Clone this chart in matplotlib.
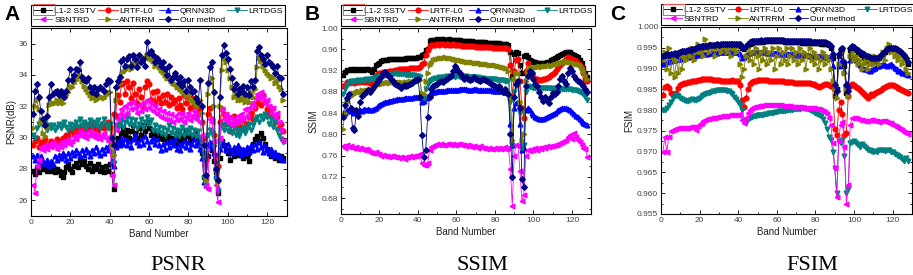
import numpy as np
import matplotlib
matplotlib.use("Agg")
import matplotlib.pyplot as plt
from matplotlib.ticker import MultipleLocator
from matplotlib.patches import Rectangle

plt.rcParams['font.family'] = ['Liberation Sans', 'DejaVu Sans']

methods = ['L1-2 SSTV', 'LRTF-L0', 'QRNN3D', 'LRTDGS', 'SBNTRD', 'ANTRRM', 'Our method']
colors = ['black', 'red', 'blue', '#008080', '#ff00ff', '#808000', '#000080']
markers = ['s', 'o', '^', 'v', '<', '>', 'D']
bands = np.arange(1, 129)

# ---------------- PSNR (dB) ----------------
psnr_sstv = [27.9, 27.7, 28.1, 27.8, 28.3, 28.0, 28.2, 27.9, 28.3, 27.9, 28.1, 27.8, 28.0, 27.9, 27.6, 27.5,
             27.8, 28.1, 28.3, 28.0, 27.8, 28.2, 28.4, 28.1, 28.6, 28.3, 28.5, 28.2, 28.0, 28.4, 27.9, 28.2,
             28.0, 28.3, 27.9, 28.1, 27.8, 28.2, 27.9, 28.3, 27.7, 26.7, 29.6, 30.0, 29.8, 30.3, 30.6, 30.2,
             30.5, 30.0, 30.4, 30.8, 30.3, 30.0, 30.6, 30.2, 30.8, 30.4, 31.0, 30.6, 30.2, 30.5, 30.1, 30.4,
             30.0, 30.3, 29.9, 30.2, 29.8, 30.1, 29.7, 30.0, 29.6, 30.3, 30.0, 29.7, 30.2, 29.9, 30.4, 30.1,
             29.8, 30.2, 29.9, 30.3, 30.0, 29.7, 29.0, 27.5, 27.4, 28.8, 29.6, 29.2, 28.5, 27.8, 26.5, 28.7,
             29.8, 29.5, 29.2, 29.0, 28.6, 29.1, 28.8, 29.2, 28.9, 29.3, 29.0, 28.7, 29.1, 28.8, 28.5, 29.2,
             29.6, 29.9, 30.1, 29.8, 30.3, 30.0, 29.6, 29.3, 29.1, 28.8, 29.0, 28.7, 28.9, 28.6, 28.8, 28.7]
psnr_lrtf = [29.5, 29.8, 30.0, 29.4, 29.7, 29.6, 29.9, 29.5, 29.6, 29.8, 29.5, 29.7, 29.9, 29.8, 29.6, 30.0,
             29.8, 30.2, 30.1, 30.4, 30.5, 30.2, 30.6, 30.3, 30.7, 30.4, 30.8, 30.5, 30.8, 30.6, 30.9, 30.6,
             30.8, 30.5, 30.7, 30.9, 30.6, 30.8, 31.0, 30.7, 29.7, 31.5, 31.4, 32.7, 32.3, 33.4, 33.5, 32.8,
             33.6, 33.2, 32.5, 33.5, 32.8, 32.2, 33.1, 32.6, 32.0, 33.2, 33.6, 33.4, 32.4, 32.9, 32.3, 33.0,
             32.5, 32.2, 32.7, 32.3, 32.8, 32.1, 32.6, 32.2, 32.4, 31.9, 32.5, 32.1, 31.8, 32.7, 32.2, 32.6,
             31.9, 32.5, 32.0, 32.4, 31.5, 31.8, 31.0, 30.0, 28.6, 31.5, 31.9, 31.2, 30.2, 28.9, 28.2, 31.0,
             31.8, 31.5, 30.9, 31.3, 30.4, 30.9, 31.4, 30.6, 31.0, 30.4, 30.7, 31.1, 30.6, 30.9, 31.3, 31.6,
             31.2, 31.9, 32.2, 32.5, 32.1, 32.7, 32.3, 31.8, 31.5, 31.9, 31.4, 31.0, 31.3, 30.6, 30.9, 30.4]
psnr_qrnn = [28.8, 28.6, 28.9, 28.4, 28.8, 28.5, 28.3, 28.6, 28.2, 28.5, 28.3, 28.8, 28.6, 28.9, 28.7, 29.0,
             28.8, 28.6, 29.0, 28.7, 29.1, 28.9, 29.2, 29.0, 28.8, 29.2, 28.9, 29.3, 29.1, 28.8, 29.2, 29.0,
             29.4, 29.1, 28.9, 29.3, 29.0, 29.4, 29.2, 29.6, 28.5, 28.2, 29.4, 29.7, 29.5, 30.0, 29.6, 29.9,
             29.5, 29.8, 29.4, 29.9, 30.2, 29.7, 29.5, 29.9, 29.6, 30.1, 29.8, 29.4, 29.8, 30.0, 29.6, 29.9,
             29.5, 29.2, 29.6, 29.3, 29.7, 29.4, 29.8, 29.5, 29.9, 29.3, 29.6, 29.2, 29.5, 29.8, 29.4, 29.7,
             29.3, 29.6, 29.9, 29.5, 29.7, 29.3, 28.7, 27.2, 27.0, 29.5, 29.7, 29.4, 29.0, 27.6, 26.8, 29.3,
             29.8, 29.5, 29.2, 29.6, 29.3, 29.0, 29.4, 29.1, 29.5, 29.2, 28.9, 29.3, 29.0, 29.4, 29.1, 29.5,
             29.2, 29.6, 29.3, 29.7, 29.4, 29.1, 29.5, 29.2, 29.0, 29.3, 28.9, 29.1, 28.8, 28.9, 28.7, 28.6]
psnr_lrtdgs = [30.2, 30.0, 30.6, 30.9, 31.1, 30.8, 31.0, 30.5, 30.8, 30.6, 30.8, 30.5, 30.7, 30.9, 30.6, 30.8,
               31.0, 30.7, 30.5, 30.9, 30.6, 30.8, 31.0, 30.7, 31.2, 30.8, 31.0, 30.6, 30.9, 31.1, 30.7, 31.0,
               30.8, 31.1, 30.6, 30.9, 31.2, 30.8, 30.6, 30.9, 29.0, 28.4, 30.8, 30.6, 30.9, 31.1, 30.7, 31.0,
               31.3, 30.9, 31.2, 30.8, 31.1, 30.6, 30.9, 31.2, 30.7, 31.0, 31.3, 30.9, 31.1, 30.5, 30.8, 30.4,
               30.7, 30.3, 30.6, 30.2, 30.5, 30.8, 30.3, 30.6, 30.2, 30.5, 30.1, 30.4, 30.7, 30.2, 30.5, 30.3,
               30.6, 30.2, 30.5, 30.1, 30.4, 30.0, 29.6, 27.4, 27.0, 30.2, 30.5, 30.3, 29.4, 27.3, 26.6, 29.8,
               30.8, 30.5, 30.9, 30.4, 30.7, 30.3, 30.6, 30.2, 30.5, 30.1, 30.4, 30.7, 30.3, 30.6, 30.9, 30.5,
               30.8, 31.1, 31.3, 31.0, 31.4, 31.2, 31.5, 31.3, 30.9, 31.2, 30.7, 31.0, 30.5, 30.2, 29.9, 29.7]
psnr_sbntrd = [27.0, 26.5, 28.2, 28.6, 29.4, 29.2, 29.5, 29.3, 29.6, 29.4, 29.7, 29.5, 29.3, 29.6, 29.4, 29.8,
               29.5, 29.7, 29.9, 29.6, 29.8, 30.1, 29.9, 30.2, 30.4, 30.1, 30.3, 30.0, 30.2, 30.4, 30.1, 30.3,
               30.0, 30.2, 29.9, 30.1, 30.3, 30.0, 29.8, 30.1, 27.6, 27.0, 30.5, 31.2, 31.5, 31.8, 31.4, 32.0,
               31.6, 32.2, 31.8, 32.3, 31.9, 31.6, 32.1, 31.7, 32.2, 31.8, 32.4, 31.9, 32.2, 31.7, 32.0, 31.5,
               31.8, 31.3, 31.7, 31.2, 31.6, 31.1, 31.5, 31.0, 31.4, 31.1, 31.6, 31.2, 31.5, 31.0, 31.3, 31.6,
               31.1, 31.4, 31.7, 31.2, 31.5, 31.0, 30.2, 28.4, 26.9, 26.7, 31.2, 31.0, 29.8, 27.0, 25.9, 30.0,
               31.8, 31.2, 31.5, 31.0, 31.3, 30.8, 31.2, 31.0, 31.4, 31.1, 31.5, 31.2, 31.8, 31.4, 31.9, 32.2,
               32.0, 32.5, 32.8, 32.5, 32.9, 32.6, 32.2, 32.4, 32.0, 31.6, 31.9, 31.3, 31.6, 31.0, 30.5, 29.8]
psnr_antrrm = [30.6, 32.0, 32.4, 31.8, 31.0, 30.3, 30.1, 30.7, 32.1, 32.3, 32.2, 32.2, 32.4, 32.2, 32.4, 32.2,
               32.5, 32.7, 32.9, 33.3, 33.2, 33.5, 33.7, 33.9, 34.0, 33.6, 33.3, 33.1, 32.9, 32.7, 32.5, 32.6,
               32.4, 32.5, 32.6, 32.6, 32.5, 32.7, 32.9, 32.9, 29.5, 28.9, 32.4, 33.2, 33.5, 33.9, 34.2, 34.3,
               34.5, 34.6, 34.4, 34.7, 34.7, 34.6, 34.8, 34.9, 35.0, 35.1, 35.3, 35.1, 35.0, 34.9, 34.6, 34.7,
               34.5, 34.3, 34.2, 34.0, 33.8, 33.8, 33.6, 33.5, 33.4, 33.2, 33.2, 33.1, 33.0, 32.9, 32.7, 32.8,
               32.5, 32.4, 32.3, 32.1, 32.0, 32.4, 31.6, 29.5, 27.3, 32.8, 33.5, 33.8, 32.0, 28.0, 27.2, 32.0,
               34.3, 35.1, 34.8, 34.3, 33.8, 33.2, 32.6, 32.8, 32.4, 32.5, 32.4, 32.6, 32.3, 32.6, 32.3, 32.9,
               32.6, 33.1, 34.5, 35.1, 34.9, 34.6, 34.3, 34.1, 34.0, 33.8, 33.9, 33.5, 33.6, 33.3, 33.1, 32.4]
psnr_ours = [31.5, 33.0, 33.4, 32.6, 31.7, 31.2, 30.8, 31.4, 32.6, 33.4, 32.8, 32.9, 33.0, 32.7, 33.0, 32.8,
             32.6, 33.0, 33.7, 34.4, 33.7, 34.0, 34.4, 34.3, 34.8, 33.9, 33.7, 33.6, 33.8, 33.2, 32.9, 33.2,
             32.8, 33.1, 33.2, 33.1, 33.0, 33.4, 33.7, 33.6, 30.0, 29.5, 33.2, 33.6, 33.9, 34.9, 35.0, 34.6,
             35.0, 35.2, 34.6, 35.3, 35.0, 34.5, 35.3, 34.8, 35.0, 34.6, 36.1, 35.4, 35.5, 35.3, 34.8, 35.1,
             34.9, 34.6, 34.8, 34.4, 34.0, 34.6, 33.7, 33.9, 34.1, 33.8, 33.5, 33.9, 33.3, 33.6, 33.0, 33.7,
             33.2, 32.9, 33.0, 32.5, 32.3, 33.7, 32.0, 29.5, 27.6, 33.5, 34.5, 34.8, 32.9, 28.0, 27.3, 32.6,
             35.3, 35.9, 35.4, 35.0, 34.4, 33.8, 33.1, 33.4, 32.8, 33.1, 33.0, 33.3, 32.8, 33.2, 32.7, 33.6,
             33.2, 33.7, 35.5, 35.8, 35.3, 35.0, 34.7, 35.3, 34.8, 34.7, 34.5, 34.1, 34.6, 33.9, 33.8, 32.8]

# ---------------- SSIM ----------------
ssim_sstv = [.912, .918, .921, .921, .922, .921, .922, .921, .922, .921, .922, .921, .923, .922, .921, .918,
             .923, .930, .933, .935, .938, .939, .940, .940, .941, .941, .941, .942, .941, .942, .942, .942,
             .942, .943, .943, .943, .944, .944, .944, .945, .945, .950, .952, .958, .960, .975, .977, .978,
             .978, .979, .978, .979, .979, .978, .978, .979, .978, .978, .978, .977, .977, .977, .976, .976,
             .976, .975, .975, .975, .974, .974, .974, .973, .973, .973, .973, .972, .972, .972, .971, .971,
             .971, .971, .970, .970, .970, .970, .968, .955, .910, .952, .955, .953, .930, .915, .948, .950,
             .945, .940, .938, .937, .936, .935, .935, .934, .934, .935, .936, .937, .939, .941, .943, .945,
             .947, .949, .951, .953, .955, .955, .954, .952, .950, .948, .945, .940, .935, .925, .915, .908]
ssim_lrtf = [.890, .893, .898, .897, .898, .899, .897, .898, .899, .898, .900, .899, .898, .899, .897, .894,
             .905, .910, .913, .915, .916, .917, .918, .918, .919, .920, .920, .921, .921, .922, .922, .922,
             .923, .923, .923, .924, .924, .925, .925, .925, .926, .932, .935, .950, .958, .966, .968, .969,
             .969, .970, .969, .970, .970, .969, .970, .969, .969, .970, .969, .968, .968, .968, .967, .967,
             .967, .966, .966, .966, .966, .965, .965, .965, .965, .964, .964, .964, .964, .964, .963, .963,
             .963, .963, .963, .962, .962, .962, .960, .930, .870, .920, .940, .942, .900, .850, .830, .920,
             .935, .925, .915, .908, .905, .904, .903, .903, .904, .905, .906, .908, .911, .914, .918, .922,
             .926, .930, .934, .938, .942, .945, .944, .942, .940, .938, .935, .930, .925, .915, .905, .900]
ssim_qrnn = [.835, .840, .845, .843, .846, .844, .841, .845, .843, .846, .844, .847, .845, .848, .846, .845,
             .848, .850, .853, .855, .857, .858, .860, .861, .862, .863, .864, .865, .866, .866, .867, .867,
             .868, .868, .868, .869, .869, .870, .870, .871, .870, .860, .862, .868, .872, .875, .878, .880,
             .880, .881, .881, .882, .882, .882, .883, .883, .883, .884, .884, .884, .884, .885, .885, .885,
             .885, .884, .884, .884, .885, .885, .884, .884, .884, .884, .883, .883, .883, .883, .882, .882,
             .882, .882, .881, .881, .880, .880, .878, .820, .780, .850, .858, .860, .820, .770, .775, .845,
             .850, .845, .840, .836, .832, .830, .829, .828, .829, .831, .833, .835, .837, .839, .841, .843,
             .845, .847, .849, .850, .850, .848, .845, .842, .838, .835, .832, .828, .825, .822, .820, .818]
ssim_lrtdgs = [.875, .885, .893, .898, .900, .899, .901, .900, .902, .901, .903, .902, .904, .903, .905, .904,
               .906, .907, .908, .909, .910, .911, .912, .913, .913, .914, .914, .915, .914, .914, .913, .913,
               .913, .912, .912, .912, .911, .911, .910, .910, .908, .870, .868, .885, .895, .900, .903, .905,
               .906, .905, .907, .906, .908, .907, .909, .908, .910, .909, .908, .910, .909, .908, .909, .908,
               .909, .908, .907, .908, .907, .906, .907, .906, .905, .906, .905, .905, .904, .905, .904, .904,
               .903, .903, .902, .902, .901, .901, .900, .860, .780, .880, .890, .892, .840, .775, .780, .880,
               .890, .889, .889, .888, .888, .887, .888, .887, .887, .888, .887, .887, .886, .887, .886, .886,
               .887, .886, .886, .885, .886, .885, .885, .884, .884, .883, .882, .880, .878, .875, .870, .865]
ssim_sbntrd = [.778, .775, .780, .776, .778, .775, .774, .776, .773, .774, .772, .771, .772, .770, .766, .765,
               .764, .766, .762, .763, .760, .761, .759, .760, .758, .760, .759, .757, .758, .756, .757, .755,
               .754, .757, .758, .759, .758, .760, .759, .761, .762, .745, .742, .743, .745, .770, .776, .778,
               .780, .782, .780, .781, .779, .780, .782, .781, .780, .781, .779, .780, .781, .782, .780, .779,
               .778, .779, .777, .776, .778, .776, .775, .777, .776, .774, .775, .773, .774, .772, .773, .774,
               .772, .775, .773, .774, .776, .772, .775, .735, .665, .760, .780, .778, .730, .675, .685, .760,
               .770, .768, .772, .770, .774, .771, .775, .773, .776, .774, .777, .776, .778, .777, .780, .779,
               .781, .783, .785, .788, .790, .795, .798, .792, .802, .795, .790, .785, .780, .775, .772, .758]
ssim_antrrm = [.810, .840, .860, .870, .872, .878, .876, .880, .882, .880, .883, .882, .884, .883, .885, .884,
               .888, .892, .895, .896, .895, .897, .896, .898, .897, .899, .898, .897, .898, .899, .898, .897,
               .898, .899, .898, .900, .899, .900, .901, .900, .902, .878, .875, .900, .915, .930, .935, .940,
               .941, .942, .943, .944, .943, .945, .944, .943, .944, .942, .941, .940, .940, .939, .938, .938,
               .937, .937, .936, .936, .935, .935, .934, .934, .933, .933, .932, .932, .931, .931, .930, .930,
               .929, .928, .927, .926, .925, .925, .920, .870, .790, .905, .915, .915, .860, .790, .800, .900,
               .920, .925, .926, .925, .927, .926, .928, .927, .928, .929, .928, .930, .929, .931, .932, .933,
               .934, .935, .936, .937, .938, .937, .936, .935, .934, .933, .932, .930, .925, .920, .912, .905]
ssim_ours = [.832, .855, .868, .875, .850, .812, .808, .845, .835, .860, .872, .875, .880, .883, .880, .885,
             .890, .895, .900, .905, .908, .915, .918, .912, .910, .905, .900, .895, .892, .890, .888, .890,
             .892, .890, .893, .895, .897, .900, .902, .905, .870, .798, .758, .770, .832, .870, .885, .890,
             .893, .895, .898, .900, .898, .902, .905, .908, .910, .920, .928, .925, .920, .915, .910, .905,
             .908, .905, .902, .905, .908, .905, .903, .900, .902, .905, .903, .900, .898, .895, .893, .890,
             .888, .890, .885, .880, .885, .880, .875, .800, .720, .870, .895, .900, .850, .715, .700, .890,
             .910, .920, .915, .905, .895, .890, .880, .870, .862, .870, .865, .858, .870, .878, .875, .880,
             .890, .905, .910, .900, .895, .915, .925, .920, .910, .905, .900, .898, .895, .890, .885, .880]

# ---------------- FSIM ----------------
fsim_sstv = [.9927, .9929, .9932, .9930, .9933, .9932, .9934, .9933, .9935, .9937, .9939, .9938, .9940, .9941, .9942, .9943,
             .9945, .9947, .9948, .9949, .9950, .9951, .9952, .9952, .9953, .9953, .9954, .9954, .9955, .9954, .9955, .9955,
             .9955, .9956, .9955, .9956, .9957, .9956, .9957, .9957, .9955, .9949, .9947, .9952, .9957, .9960, .9962, .9963,
             .9963, .9964, .9964, .9965, .9964, .9965, .9965, .9965, .9966, .9965, .9965, .9966, .9965, .9965, .9965, .9964,
             .9964, .9964, .9964, .9963, .9963, .9963, .9963, .9963, .9962, .9962, .9962, .9962, .9962, .9961, .9961, .9961,
             .9961, .9961, .9960, .9960, .9960, .9959, .9957, .9950, .9925, .9835, .9850, .9930, .9945, .9947, .9905, .9840,
             .9855, .9945, .9950, .9948, .9944, .9940, .9936, .9932, .9925, .9921, .9918, .9916, .9915, .9916, .9918, .9921,
             .9926, .9930, .9935, .9940, .9944, .9947, .9948, .9948, .9947, .9945, .9942, .9939, .9935, .9930, .9922, .9912]
fsim_lrtf = [.9837, .9855, .9858, .9852, .9842, .9838, .9836, .9840, .9852, .9860, .9863, .9865, .9866, .9867, .9868, .9869,
             .9870, .9871, .9872, .9873, .9874, .9874, .9875, .9874, .9875, .9874, .9873, .9873, .9872, .9872, .9871, .9871,
             .9870, .9871, .9870, .9871, .9872, .9871, .9870, .9869, .9860, .9825, .9808, .9830, .9850, .9862, .9867, .9870,
             .9871, .9872, .9872, .9873, .9873, .9872, .9872, .9871, .9871, .9870, .9871, .9870, .9870, .9869, .9869, .9868,
             .9868, .9867, .9867, .9867, .9866, .9866, .9866, .9865, .9865, .9866, .9865, .9864, .9864, .9863, .9862, .9861,
             .9858, .9855, .9857, .9860, .9862, .9862, .9861, .9858, .9855, .9755, .9740, .9800, .9820, .9790, .9740, .9745,
             .9835, .9858, .9862, .9860, .9856, .9852, .9848, .9843, .9838, .9834, .9830, .9834, .9838, .9836, .9840, .9843,
             .9846, .9849, .9852, .9855, .9858, .9860, .9861, .9860, .9858, .9855, .9852, .9850, .9848, .9846, .9844, .9842]
fsim_qrnn = [.9910, .9912, .9915, .9917, .9918, .9920, .9921, .9922, .9923, .9924, .9925, .9926, .9927, .9928, .9929, .9930,
             .9931, .9932, .9933, .9934, .9935, .9935, .9936, .9936, .9937, .9937, .9938, .9938, .9938, .9939, .9939, .9939,
             .9939, .9940, .9940, .9940, .9940, .9940, .9940, .9939, .9935, .9925, .9928, .9933, .9936, .9938, .9939, .9940,
             .9940, .9940, .9940, .9939, .9939, .9939, .9938, .9938, .9938, .9937, .9937, .9937, .9936, .9936, .9936, .9935,
             .9935, .9935, .9934, .9934, .9934, .9933, .9933, .9933, .9933, .9932, .9932, .9932, .9931, .9931, .9931, .9930,
             .9930, .9930, .9929, .9929, .9928, .9928, .9927, .9925, .9905, .9860, .9850, .9905, .9915, .9920, .9895, .9865,
             .9860, .9920, .9928, .9925, .9920, .9913, .9908, .9903, .9900, .9898, .9896, .9895, .9897, .9900, .9902, .9905,
             .9907, .9909, .9910, .9908, .9906, .9908, .9910, .9906, .9902, .9898, .9895, .9893, .9890, .9888, .9886, .9884]
fsim_lrtdgs = [.9800, .9800, .9805, .9812, .9820, .9828, .9834, .9836, .9834, .9830, .9826, .9824, .9822, .9823, .9825, .9826,
               .9825, .9824, .9826, .9830, .9834, .9836, .9838, .9840, .9842, .9844, .9846, .9847, .9848, .9849, .9849, .9848,
               .9848, .9847, .9845, .9842, .9838, .9832, .9826, .9820, .9812, .9800, .9775, .9770, .9778, .9782, .9784, .9785,
               .9786, .9787, .9788, .9788, .9789, .9790, .9791, .9792, .9793, .9794, .9795, .9796, .9797, .9797, .9798, .9798,
               .9799, .9800, .9800, .9801, .9802, .9802, .9803, .9803, .9804, .9804, .9803, .9802, .9800, .9798, .9795, .9792,
               .9790, .9788, .9785, .9778, .9768, .9755, .9735, .9728, .9700, .9660, .9600, .9725, .9720, .9728, .9690, .9600,
               .9610, .9720, .9722, .9725, .9720, .9716, .9712, .9718, .9714, .9708, .9705, .9703, .9701, .9700, .9702, .9700,
               .9703, .9705, .9703, .9701, .9705, .9703, .9700, .9698, .9695, .9693, .9690, .9686, .9682, .9678, .9685, .9678]
fsim_sbntrd = [.9700, .9735, .9700, .9735, .9750, .9752, .9754, .9755, .9756, .9756, .9757, .9757, .9758, .9758, .9759, .9759,
               .9760, .9752, .9762, .9766, .9770, .9773, .9776, .9778, .9779, .9780, .9781, .9782, .9783, .9784, .9785, .9785,
               .9786, .9786, .9787, .9787, .9788, .9788, .9789, .9789, .9790, .9775, .9768, .9780, .9792, .9800, .9805, .9807,
               .9808, .9809, .9810, .9810, .9811, .9811, .9811, .9812, .9812, .9812, .9812, .9811, .9811, .9811, .9810, .9810,
               .9810, .9809, .9809, .9808, .9808, .9808, .9807, .9807, .9806, .9806, .9806, .9805, .9805, .9804, .9804, .9803,
               .9803, .9802, .9800, .9798, .9795, .9790, .9780, .9765, .9720, .9660, .9590, .9725, .9765, .9772, .9712, .9575,
               .9620, .9765, .9780, .9782, .9780, .9778, .9776, .9775, .9774, .9773, .9774, .9775, .9776, .9775, .9774, .9773,
               .9772, .9773, .9774, .9773, .9772, .9770, .9768, .9765, .9762, .9760, .9757, .9754, .9751, .9748, .9745, .9742]
fsim_antrrm = [.9920, .9940, .9900, .9950, .9890, .9930, .9880, .9920, .9890, .9940, .9900, .9930, .9920, .9940, .9930, .9950,
               .9920, .9940, .9960, .9940, .9950, .9930, .9970, .9950, .9940, .9960, .9950, .9930, .9950, .9960, .9940, .9950,
               .9960, .9940, .9950, .9930, .9960, .9950, .9940, .9960, .9910, .9880, .9900, .9930, .9950, .9920, .9940, .9910,
               .9950, .9930, .9900, .9940, .9920, .9950, .9910, .9940, .9920, .9950, .9900, .9930, .9950, .9910, .9940, .9920,
               .9950, .9910, .9930, .9950, .9920, .9940, .9910, .9950, .9920, .9940, .9900, .9930, .9950, .9920, .9940, .9910,
               .9930, .9900, .9920, .9940, .9910, .9930, .9920, .9900, .9870, .9850, .9830, .9910, .9935, .9940, .9890, .9850,
               .9835, .9930, .9940, .9920, .9930, .9910, .9920, .9900, .9910, .9920, .9900, .9910, .9920, .9910, .9930, .9920,
               .9910, .9930, .9940, .9920, .9950, .9960, .9940, .9950, .9930, .9940, .9920, .9930, .9910, .9920, .9900, .9890]
fsim_ours = [.9930, .9932, .9935, .9933, .9936, .9935, .9937, .9936, .9938, .9940, .9942, .9941, .9943, .9944, .9945, .9946,
             .9948, .9950, .9951, .9952, .9953, .9954, .9955, .9955, .9956, .9956, .9957, .9957, .9958, .9957, .9958, .9958,
             .9958, .9959, .9958, .9959, .9960, .9959, .9960, .9960, .9958, .9952, .9950, .9955, .9960, .9963, .9965, .9966,
             .9966, .9967, .9967, .9968, .9967, .9968, .9968, .9968, .9969, .9968, .9968, .9969, .9968, .9968, .9968, .9967,
             .9967, .9967, .9967, .9966, .9966, .9966, .9966, .9966, .9965, .9965, .9965, .9965, .9965, .9964, .9964, .9964,
             .9964, .9964, .9963, .9963, .9963, .9962, .9960, .9955, .9935, .9860, .9845, .9935, .9948, .9950, .9915, .9860,
             .9845, .9950, .9955, .9952, .9948, .9944, .9940, .9937, .9934, .9931, .9929, .9927, .9926, .9925, .9925, .9926,
             .9928, .9932, .9937, .9942, .9946, .9949, .9950, .9950, .9949, .9947, .9945, .9942, .9938, .9933, .9925, .9915]

psnr = [psnr_sstv, psnr_lrtf, psnr_qrnn, psnr_lrtdgs, psnr_sbntrd, psnr_antrrm, psnr_ours]
ssim = [ssim_sstv, ssim_lrtf, ssim_qrnn, ssim_lrtdgs, ssim_sbntrd, ssim_antrrm, ssim_ours]
fsim = [fsim_sstv, fsim_lrtf, fsim_qrnn, fsim_lrtdgs, fsim_sbntrd, fsim_antrrm, fsim_ours]

W, H = 913, 275
fig = plt.figure(figsize=(W / 100, H / 100), dpi=100)

panels = [
    # letter, data, ylabel, caption, axes rect, ylim, major, minor, fmt, letter x, caption x
    ('A', psnr, 'PSNR(dB)', 'PSNR', [0.034, 0.2145, 0.280, 0.684], (25, 37), 2, 1, '%d', 4, 178),
    ('B', ssim, 'SSIM', 'SSIM', [0.3735, 0.222, 0.274, 0.676], (0.65, 1.0), 0.04, 0.02, '%.2f', 305, 482),
    ('C', fsim, 'FSIM', 'FSIM', [0.724, 0.222, 0.2749, 0.680], (0.955, 1.0), 0.005, 0.0025, '%.3f', 610, 812),
]

for letter, data, ylab, cap, rect, ylim, major, minor, fmt, letx, capx in panels:
    ax = fig.add_axes(rect)
    handles = []
    for vals, name, c, m in zip(data, methods, colors, markers):
        h, = ax.plot(bands, vals, color=c, marker=m, ms=3.4 if m != 'D' else 2.9,
                     lw=0.6, mec=c, mfc=c, label=name)
        handles.append(h)
    ax.set_xlim(0, 130)
    ax.set_ylim(*ylim)
    ax.xaxis.set_major_locator(MultipleLocator(20))
    ax.xaxis.set_minor_locator(MultipleLocator(10))
    ax.yaxis.set_major_locator(MultipleLocator(major))
    ax.yaxis.set_minor_locator(MultipleLocator(minor))
    ax.yaxis.set_major_formatter(matplotlib.ticker.FormatStrFormatter(fmt))
    ax.tick_params(which='both', direction='in', top=True, right=True,
                   labelsize=6, labelcolor='#444444', width=0.6, pad=2)
    ax.tick_params(which='major', length=3)
    ax.tick_params(which='minor', length=1.5)
    for s in ax.spines.values():
        s.set_linewidth(0.8)
    ax.set_xlabel('Band Number', fontsize=7, color='#222222', labelpad=2)
    ax.set_ylabel(ylab, fontsize=7, color='#222222', labelpad=2)

    # row-wise legend: 4 entries on top, 3 below
    order = [0, 4, 1, 5, 2, 6, 3]
    leg = ax.legend([handles[i] for i in order], [methods[i] for i in order],
                    ncol=4, loc='lower left', bbox_to_anchor=(0.0, 1.012),
                    borderaxespad=0, fontsize=6.1, handlelength=2.3,
                    handletextpad=0.2, columnspacing=0.3, labelspacing=0.12,
                    borderpad=0.22, fancybox=False, edgecolor='black', framealpha=1)
    leg.get_frame().set_linewidth(0.8)

    # red selection box around first legend handle (as in the original)
    x0 = rect[0] * W + 2
    fig.patches.append(Rectangle((x0 / W, 1 - 15 / H), 22 / W, 11 / H,
                                 transform=fig.transFigure, fill=False,
                                 edgecolor='#ff5050', lw=0.7))

    fig.text(letx / W, 1 - 14 / H, letter, fontsize=15, fontweight='bold',
             ha='left', va='center')
    fig.text(capx / W, 1 - 265 / H, cap, fontsize=16, family='Liberation Serif',
             ha='center', va='center')

fig.savefig('out.png', dpi=100)
